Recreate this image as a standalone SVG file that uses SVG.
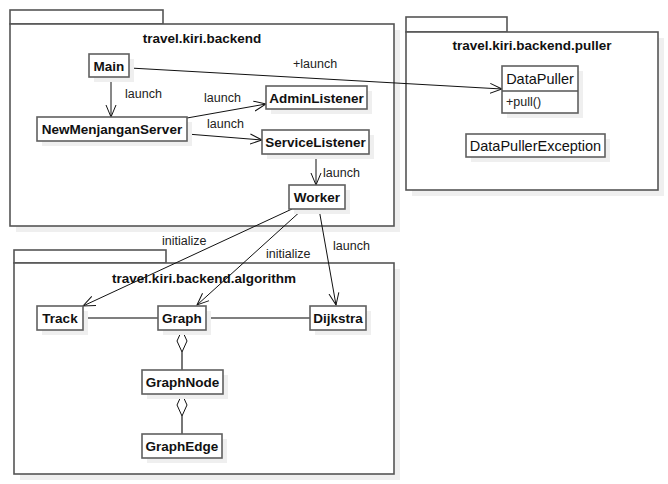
<svg xmlns="http://www.w3.org/2000/svg" width="668" height="484" viewBox="0 0 668 484">
<style>
.pk{fill:#fff;stroke:#555;stroke-width:1.6}
.sh{fill:#efefef;stroke:none}
.nd{fill:#fff;stroke:#606060;stroke-width:1.6}
.t{font-family:"Liberation Sans",Arial,sans-serif;font-size:13.5px;font-weight:bold;fill:#111;text-anchor:middle}
.r{font-family:"Liberation Sans",Arial,sans-serif;font-size:14.5px;fill:#111;text-anchor:middle}
.lb{font-family:"Liberation Sans",Arial,sans-serif;font-size:12.5px;fill:#222}
.c{fill:none;stroke:#111;stroke-width:1}
.a{fill:none;stroke:#555;stroke-width:1.6}
.dm{fill:#fff;stroke:#111;stroke-width:1}
</style>
<defs>
<marker id="open" markerWidth="14" markerHeight="12" refX="12" refY="6" orient="auto" markerUnits="userSpaceOnUse">
<path d="M0,1 L12,6 L0,11" fill="none" stroke="#111" stroke-width="1"/>
</marker>
</defs>
<rect width="668" height="484" fill="#fff"/>

<g id="pkg-backend">
<rect class="sh" x="16" y="30" width="384" height="202"/>
<rect class="pk" x="10" y="10" width="153" height="14"/>
<rect class="pk" x="10" y="24" width="384" height="202"/>
<text class="t" x="202" y="43">travel.kiri.backend</text>
</g>
<g id="pkg-puller">
<rect class="sh" x="412" y="38" width="252" height="158"/>
<rect class="pk" x="406" y="17" width="101" height="15"/>
<rect class="pk" x="406" y="32" width="252" height="158"/>
<text class="t" x="532" y="50">travel.kiri.backend.puller</text>
</g>
<g id="pkg-algorithm">
<rect class="sh" x="20" y="269" width="380" height="211"/>
<rect class="pk" x="14" y="250" width="152" height="13"/>
<rect class="pk" x="14" y="263" width="380" height="211"/>
<text class="t" x="204" y="283">travel.kiri.backend.algorithm</text>
</g>

<g id="connectors">
<line class="c" x1="130" y1="68" x2="502" y2="89" marker-end="url(#open)"/>
<line class="c" x1="111" y1="77" x2="111" y2="117" marker-end="url(#open)"/>
<line class="c" x1="187" y1="118" x2="266" y2="104" marker-end="url(#open)"/>
<line class="c" x1="187" y1="134" x2="262" y2="140" marker-end="url(#open)"/>
<line class="c" x1="316" y1="154" x2="316" y2="185" marker-end="url(#open)"/>
<line class="c" x1="292" y1="209" x2="83" y2="306" marker-end="url(#open)"/>
<line class="c" x1="303" y1="209" x2="197" y2="305" marker-end="url(#open)"/>
<line class="c" x1="319" y1="209" x2="336" y2="305" marker-end="url(#open)"/>
<line class="a" x1="83" y1="318" x2="158" y2="318"/>
<line class="a" x1="206" y1="318" x2="310" y2="318"/>
<line class="a" x1="182" y1="352" x2="182" y2="370"/>
<path class="dm" d="M182,330 L187,341 L182,352 L177,341 Z"/>
<line class="a" x1="182" y1="416" x2="182" y2="434"/>
<path class="dm" d="M182,394 L187,405 L182,416 L177,405 Z"/>
<text class="lb" x="293" y="68">+launch</text>
<text class="lb" x="125" y="98">launch</text>
<text class="lb" x="204" y="102">launch</text>
<text class="lb" x="207" y="128">launch</text>
<text class="lb" x="323" y="177">launch</text>
<text class="lb" x="162" y="245">initialize</text>
<text class="lb" x="266" y="258">initialize</text>
<text class="lb" x="333" y="250">launch</text>
</g>

<g id="Main">
<rect class="sh" x="94" y="59" width="40" height="23"/>
<rect class="nd" x="89" y="54" width="40" height="23"/>
<text class="t" x="109" y="71">Main</text>
</g>
<g id="NewMenjanganServer">
<rect class="sh" x="42" y="122" width="150" height="24"/>
<rect class="nd" x="37" y="117" width="150" height="24"/>
<text class="t" x="112" y="134">NewMenjanganServer</text>
</g>
<g id="AdminListener">
<rect class="sh" x="271" y="91" width="101" height="23"/>
<rect class="nd" x="266" y="86" width="101" height="23"/>
<text class="t" x="316.5" y="102.5">AdminListener</text>
</g>
<g id="ServiceListener">
<rect class="sh" x="267" y="135" width="107" height="24"/>
<rect class="nd" x="262" y="130" width="107" height="24"/>
<text class="t" x="315.5" y="147">ServiceListener</text>
</g>
<g id="Worker">
<rect class="sh" x="294" y="190" width="56" height="24"/>
<rect class="nd" x="289" y="185" width="56" height="24"/>
<text class="t" x="317" y="202">Worker</text>
</g>
<g id="DataPuller">
<rect class="sh" x="507" y="71" width="76" height="47"/>
<rect class="nd" x="502" y="66" width="76" height="47"/>
<line class="a" x1="502" y1="91" x2="578" y2="91"/>
<text class="r" x="540" y="84">DataPuller</text>
<text class="lb" x="506" y="106">+pull()</text>
</g>
<g id="DataPullerException">
<rect class="sh" x="471" y="139" width="139" height="23"/>
<rect class="nd" x="466" y="134" width="139" height="23"/>
<text class="r" x="535.5" y="151">DataPullerException</text>
</g>
<g id="Track">
<rect class="sh" x="42" y="311" width="46" height="24"/>
<rect class="nd" x="37" y="306" width="46" height="24"/>
<text class="t" x="60" y="323">Track</text>
</g>
<g id="Graph">
<rect class="sh" x="163" y="311" width="48" height="24"/>
<rect class="nd" x="158" y="306" width="48" height="24"/>
<text class="t" x="182" y="323">Graph</text>
</g>
<g id="Dijkstra">
<rect class="sh" x="315" y="311" width="56" height="24"/>
<rect class="nd" x="310" y="306" width="56" height="24"/>
<text class="t" x="338" y="323">Dijkstra</text>
</g>
<g id="GraphNode">
<rect class="sh" x="147" y="375" width="81" height="24"/>
<rect class="nd" x="142" y="370" width="81" height="24"/>
<text class="t" x="182.5" y="387">GraphNode</text>
</g>
<g id="GraphEdge">
<rect class="sh" x="147" y="439" width="80" height="24"/>
<rect class="nd" x="142" y="434" width="80" height="24"/>
<text class="t" x="182" y="451">GraphEdge</text>
</g>
</svg>
